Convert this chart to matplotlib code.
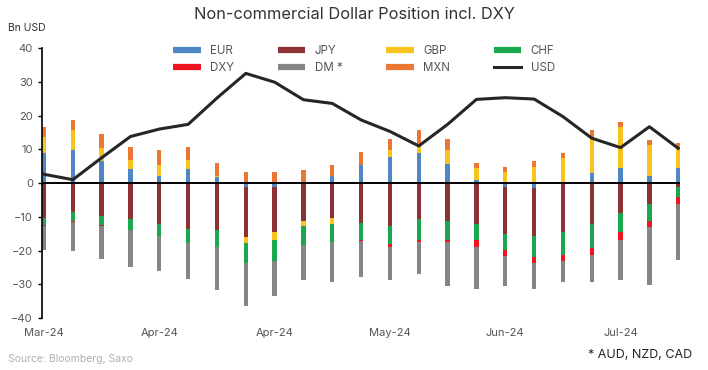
import numpy as np
import matplotlib
matplotlib.use("Agg")
import matplotlib.pyplot as plt
from matplotlib.lines import Line2D

plt.rcParams["font.family"] = ["Inter", "DejaVu Sans"]

# weekly COT data, Bn USD
tick_labels = ["Mar-24", "Apr-24", "Apr-24", "May-24", "Jun-24", "Jul-24"]
tick_every = 4

eur = [8.9, 9.9, 6.4, 4.1, 2.2, 4.2, 1.7, -1.3, -1.2, 0.0, 2.2, 5.4,
       7.6, 8.9, 5.7, 1.0, -1.3, -1.5, 0.0, 3.1, 4.6, 2.2, 4.6]
jpy = [-10.3, -8.7, -9.9, -10.8, -12.1, -13.5, -13.8, -14.7, -13.4, -11.1, -10.3, -11.8,
       -12.8, -10.6, -11.1, -12.0, -13.8, -14.3, -14.6, -12.1, -8.9, -6.2, -1.2]
gbp = [4.7, 5.7, 4.1, 2.8, 3.2, 2.5, 0.3, -1.9, -2.4, -1.7, -1.7, 0.0,
       2.3, 1.9, 4.0, 3.6, 3.4, 4.9, 7.4, 10.0, 11.9, 9.1, 5.7]
chf = [-2.2, -2.4, -2.6, -3.2, -3.5, -4.4, -5.1, -5.9, -6.0, -5.6, -5.4, -5.2,
       -5.4, -6.4, -5.9, -5.0, -4.6, -6.1, -6.6, -7.1, -5.7, -5.1, -3.0]
dxy = [-0.3, -0.4, -0.2, 0.0, 0.0, 0.0, 0.0, 0.0, 0.0, 0.0, -0.2, -0.3,
       -0.8, -0.5, -0.4, -2.0, -2.0, -1.9, -1.8, -2.0, -2.4, -1.8, -2.0]
dm = [-6.9, -8.5, -9.7, -11.0, -10.5, -10.5, -12.9, -12.5, -10.5, -10.2, -11.8, -10.6,
      -9.6, -9.6, -13.1, -12.3, -8.8, -7.7, -6.3, -8.1, -11.8, -17.0, -16.7]
mxn = [3.1, 3.1, 3.9, 3.8, 4.4, 4.0, 3.9, 3.3, 3.3, 3.8, 3.2, 3.8,
       3.2, 5.0, 3.4, 1.4, 1.5, 1.6, 1.6, 2.7, 1.7, 1.5, 1.6]
usd = [2.6, 1.0, 7.5, 13.8, 16.0, 17.4, 25.2, 32.5, 29.9, 24.7, 23.6, 18.7,
       15.3, 11.0, 17.4, 24.8, 25.3, 24.9, 19.7, 13.3, 10.5, 16.7, 10.3]

series = [
    ("EUR", eur, "#4f86c6"),
    ("JPY", jpy, "#8e3135"),
    ("GBP", gbp, "#f7c31c"),
    ("CHF", chf, "#1aa84f"),
    ("DXY", dxy, "#f0141e"),
    ("DM *", dm, "#858585"),
    ("MXN", mxn, "#ec7633"),
]

fig = plt.figure(figsize=(7.08, 3.70), dpi=100)
ax = fig.add_axes([0.0593, 0.1405, 0.9007, 0.7295])

x = np.arange(len(usd))
pos_bottom = np.zeros(len(x))
neg_bottom = np.zeros(len(x))
handles = {}
for name, vals, color in series:
    v = np.array(vals)
    bottom = np.where(v >= 0, pos_bottom, neg_bottom)
    ax.bar(x, v, bottom=bottom, width=0.15, color=color, linewidth=0, zorder=2)
    pos_bottom = pos_bottom + np.where(v > 0, v, 0)
    neg_bottom = neg_bottom + np.where(v < 0, v, 0)
    handles[name] = Line2D([], [], color=color, lw=4.5, solid_capstyle="butt")

ax.axhline(0, color="black", lw=1.4, zorder=3)
ax.plot(x, usd, color="#262626", lw=2.2, zorder=4)
handles["USD"] = Line2D([], [], color="#262626", lw=2.2)

# matplotlib fills legend columns first, so reorder for row-wise reading
order = ["EUR", "DXY", "JPY", "DM *", "GBP", "MXN", "CHF", "USD"]
ax.legend([handles[k] for k in order], order, ncol=4, loc="upper center",
          bbox_to_anchor=(0.505, 1.05), frameon=False, fontsize=8.3,
          handlelength=2.4, handletextpad=0.8, columnspacing=3.8,
          labelspacing=0.45, labelcolor="#555555")

ax.set_ylim(-40, 40)
ax.set_yticks(range(-40, 41, 10))
ax.set_xlim(-0.07, 22.05)
ax.set_xticks(x[::tick_every])
ax.set_xticklabels(tick_labels)
ax.tick_params(axis="y", colors="black", labelcolor="#555555", labelsize=8,
               length=3, width=1)
ax.tick_params(axis="x", length=0, labelcolor="#555555", labelsize=8, pad=7)
for s in ["top", "right", "bottom"]:
    ax.spines[s].set_visible(False)
ax.spines["left"].set_linewidth(1.2)

fig.text(0.5, 0.962, "Non-commercial Dollar Position incl. DXY", ha="center",
         va="center", fontsize=11.8, color="#333333")
fig.text(0.012, 0.925, "Bn USD", ha="left", va="center", fontsize=7.5,
         color="#333333")
fig.text(0.012, 0.03, "Source: Bloomberg, Saxo", ha="left", va="center",
         fontsize=7.5, color="#b0b0b0")
fig.text(0.978, 0.04, "* AUD, NZD, CAD", ha="right", va="center",
         fontsize=9, color="#222222")

fig.savefig("out.png", dpi=100)
